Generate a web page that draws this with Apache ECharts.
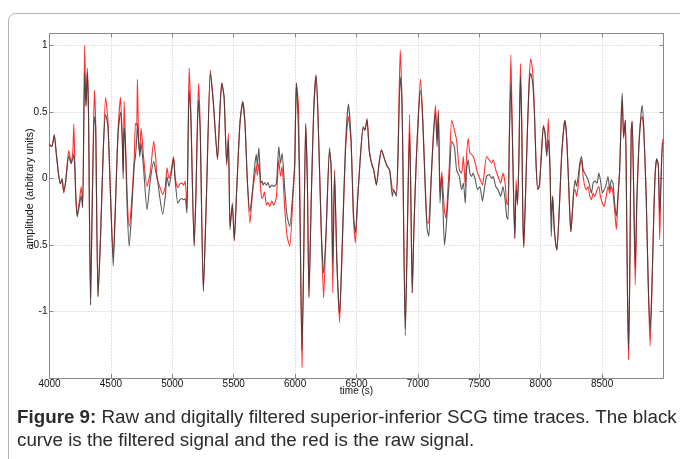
<!DOCTYPE html>
<html>
<head>
<meta charset="utf-8">
<script src="https://cdn.jsdelivr.net/npm/echarts@6/dist/echarts.min.js"></script>
<style>
html,body{margin:0;padding:0;background:#fff;}
#chart{width:680px;height:459px;}
</style>
</head>
<body>
<div id="chart"></div>
<script>
var time = [4000,4019,4039,4055,4074,4088,4102,4116,4132,4157,4176,4190,4198,4207,4215,4226,4242,4258,4270,4286,4297,4308,4318,4334,4349,4365,4376,4395,4416,4438,4457,4476,4497,4519,4538,4557,4578,4592,4600,4608,4618,4632,4649,4667,4690,4700,4710,4716,4725,4735,4746,4767,4794,4821,4849,4865,4876,4897,4922,4943,4957,4973,4989,5010,5024,5045,5062,5078,5092,5105,5119,5137,5151,5178,5192,5213,5227,5253,5278,5310,5335,5368,5389,5403,5422,5443,5457,5470,5489,5505,5524,5551,5573,5592,5611,5632,5654,5673,5685,5692,5705,5721,5730,5740,5750,5767,5780,5794,5810,5827,5848,5867,5881,5894,5916,5935,5956,5983,5997,6010,6027,6040,6056,6070,6086,6100,6113,6132,6151,6170,6186,6213,6232,6253,6280,6294,6307,6321,6340,6362,6383,6410,6434,6456,6475,6491,6510,6532,6554,6568,6586,6603,6622,6640,6662,6684,6703,6730,6751,6770,6792,6802,6824,6838,6856,6870,6878,6897,6910,6932,6943,6954,6967,6986,7005,7021,7040,7062,7076,7089,7108,7126,7143,7156,7167,7180,7194,7216,7229,7243,7256,7275,7297,7315,7337,7356,7370,7386,7396,7410,7423,7437,7450,7467,7486,7504,7526,7540,7559,7580,7602,7613,7634,7653,7674,7693,7710,7723,7734,7745,7757,7768,7779,7789,7800,7811,7822,7835,7846,7854,7862,7876,7892,7908,7919,7935,7949,7962,7976,7989,8005,8022,8035,8049,8062,8076,8086,8097,8111,8122,8132,8151,8170,8189,8197,8211,8224,8238,8246,8259,8270,8281,8292,8305,8319,8332,8346,8359,8373,8386,8400,8413,8427,8440,8459,8473,8486,8502,8516,8529,8548,8562,8575,8589,8602,8616,8629,8643,8656,8664,8675,8689,8697,8707,8716,8726,8737,8745,8756,8770,8783,8799,8815,8826,8840,8859,8875,8891,8907,8921,8934,8945,8958,8969,8980,8991,8998];

var filtered = [0.25,0.24,0.325,0.19,0.03,-0.04,0.0,-0.09,-0.02,0.17,0.11,0.15,0.18,0.05,-0.16,-0.29,-0.21,-0.13,-0.22,0.79,0.54,0.80,0.45,-0.95,-0.13,0.465,0.39,-0.885,-0.43,0.21,0.48,0.39,-0.135,-0.66,-0.185,0.315,0.50,0.30,0.0,0.38,0.25,-0.21,-0.51,-0.28,0.1,0.165,0.30,0.415,0.28,0.165,0.265,0.065,-0.235,-0.01,0.13,0.05,0.015,-0.135,-0.27,-0.135,0.015,-0.06,0.015,0.15,-0.02,-0.185,-0.16,-0.15,-0.16,-0.15,-0.26,0.665,0.465,-0.51,-0.135,0.59,0.365,-0.85,-0.13,0.79,0.565,0.14,0.54,0.715,0.615,0.115,0.29,-0.385,-0.185,-0.46,-0.085,0.415,0.58,0.415,-0.01,-0.25,-0.085,0.115,0.18,0.09,0.23,-0.035,-0.02,-0.05,-0.03,-0.05,-0.03,-0.07,-0.05,-0.06,-0.035,0.24,0.115,0.19,-0.085,-0.285,-0.36,-0.085,0.115,0.715,0.365,-0.3,-1.29,-0.6,0.415,-0.035,-0.885,-0.135,0.49,0.78,0.49,-0.385,-0.71,-0.385,0.23,0.065,-0.635,0.04,-0.635,-1.02,-0.51,0.24,0.56,0.29,-0.26,-0.41,-0.15,0.165,0.39,0.365,0.44,0.215,0.115,0.065,-0.05,0.115,0.215,0.14,0.09,0.065,-0.135,-0.085,-0.135,0.165,0.765,0.59,0.115,-1.18,-0.635,0.34,-0.135,-0.86,-0.385,0.115,0.49,0.66,0.415,-0.135,-0.385,-0.435,-0.01,0.315,0.49,0.24,0.49,-0.185,0.015,-0.5,-0.385,-0.185,-0.01,0.28,0.24,0.065,0.015,-0.085,-0.035,-0.185,0.065,0.14,0.04,0.015,0.04,-0.01,-0.085,-0.06,-0.17,-0.085,0.015,0.03,0.0,0.015,-0.06,-0.085,-0.135,-0.06,-0.16,-0.285,-0.31,0.3,0.715,0.365,-0.135,-0.45,-0.085,-0.185,0.115,0.765,0.365,-0.26,-0.51,-0.135,0.365,0.74,0.79,0.715,0.49,0.115,-0.085,-0.06,0.165,0.39,0.34,0.165,0.29,0.065,-0.435,-0.135,-0.385,-0.485,-0.535,-0.235,0.165,0.39,0.435,0.315,0.04,-0.285,-0.4,-0.235,-0.085,-0.01,-0.06,0.015,0.115,0.165,0.065,0.04,0.015,-0.01,-0.06,-0.11,-0.035,-0.02,-0.035,0.04,-0.01,-0.11,-0.085,-0.06,0.015,-0.085,-0.01,-0.035,-0.185,-0.285,-0.135,0.065,0.49,0.64,0.315,0.44,-0.01,-0.885,-1.285,-0.635,0.365,0.43,-0.01,-0.67,-0.135,0.24,0.465,0.55,0.365,-0.135,-0.76,-1.15,-0.76,-0.26,0.065,0.15,0.1,-0.26,-0.01,0.265,0.26];

var raw = [0.26,0.24,0.33,0.19,0.03,-0.04,-0.01,-0.11,-0.02,0.21,0.12,0.2,0.41,0.1,-0.14,-0.27,-0.18,-0.06,-0.21,1.0,0.55,0.83,0.48,-0.9,-0.15,0.665,0.4,-0.89,-0.43,0.22,0.61,0.43,-0.13,-0.59,-0.17,0.33,0.61,0.33,0.05,0.58,0.3,-0.12,-0.36,-0.2,0.15,0.415,0.4,0.745,0.3,0.2,0.38,0.15,-0.06,0.05,0.28,0.15,0.0,-0.06,-0.12,-0.06,0.08,0.0,0.05,0.165,0.0,-0.07,-0.04,-0.035,-0.05,-0.02,-0.23,0.83,0.5,-0.5,-0.13,0.715,0.4,-0.84,-0.14,0.815,0.56,0.15,0.54,0.72,0.6,0.1,0.34,-0.36,-0.2,-0.47,-0.1,0.42,0.57,0.41,-0.02,-0.335,-0.1,0.03,0.1,0.02,0.115,-0.1,-0.15,-0.135,-0.1,-0.2,-0.18,-0.21,-0.17,-0.2,-0.135,0.14,0.015,0.09,-0.235,-0.435,-0.51,-0.135,0.115,0.72,0.55,-0.2,-1.42,-0.6,0.4,-0.03,-0.9,-0.14,0.5,0.77,0.48,-0.4,-0.9,-0.4,0.2,0.1,-0.86,0.065,-0.6,-1.085,-0.55,0.2,0.465,0.27,-0.3,-0.485,-0.14,0.17,0.38,0.36,0.45,0.22,0.115,0.065,-0.05,0.115,0.215,0.14,0.09,0.06,-0.08,-0.09,-0.12,0.2,0.965,0.6,0.1,-1.12,-0.6,0.48,-0.2,-0.86,-0.4,0.12,0.5,0.75,0.45,-0.1,-0.335,-0.33,0.0,0.33,0.55,0.3,0.515,-0.1,0.05,-0.24,-0.3,-0.1,0.1,0.44,0.365,0.29,0.065,0.04,0.165,-0.06,0.165,0.3,0.19,0.18,0.165,0.115,0.04,0.0,-0.05,0.04,0.165,0.14,0.115,0.14,0.065,0.015,-0.035,0.04,-0.035,-0.185,-0.2,0.35,0.93,0.4,-0.1,-0.45,-0.01,-0.2,0.15,0.865,0.4,-0.25,-0.52,-0.14,0.37,0.78,0.9,0.8,0.5,0.12,-0.08,-0.05,0.17,0.4,0.35,0.2,0.45,0.07,-0.285,-0.13,-0.39,-0.49,-0.54,-0.24,0.17,0.39,0.435,0.31,0.04,-0.29,-0.4,-0.24,-0.09,-0.085,-0.135,-0.06,0.09,0.14,0.015,-0.06,-0.085,-0.06,-0.135,-0.16,-0.11,-0.135,-0.085,-0.06,-0.135,-0.185,-0.21,-0.16,-0.06,-0.11,-0.06,-0.11,-0.235,-0.385,-0.15,0.06,0.45,0.58,0.3,0.44,0.0,-0.9,-1.36,-0.65,0.35,0.43,-0.05,-0.8,-0.2,0.23,0.44,0.465,0.35,-0.14,-0.78,-1.26,-0.8,-0.27,0.06,0.14,0.1,-0.46,-0.01,0.265,0.3];

var xTicks = ['4000','4500','5000','5500','6000','6500','7000','7500','8000','8500'];
var yTicks = ['-1','-0.5','0','0.5','1'];

var FONT = '"Liberation Sans", Arial, Helvetica, sans-serif';
var chart = echarts.init(document.getElementById('chart'), null, {renderer: 'canvas'});

var axisColor = '#8a8a8a';
var gridLine = {show: true, lineStyle: {color: '#c4c4c4', type: [1, 2], width: 1}};

var option = {
  animation: false,
  backgroundColor: '#ffffff',
  grid: {left: 49.5, top: 33.5, right: 16.5, bottom: 81, containLabel: false},
  xAxis: [{
    type: 'value', min: 4000, max: 9000, interval: 500, position: 'bottom',
    name: 'time (s)', nameLocation: 'middle', nameGap: 8, nameMoveOverlap: false,
    nameTextStyle: {fontFamily: FONT, fontSize: 10, color: '#111', verticalAlign: 'top'},
    axisLine: {show: true, onZero: false, lineStyle: {color: axisColor, width: 1}},
    axisTick: {show: true, inside: true, length: 4, lineStyle: {color: axisColor}},
    axisLabel: {
      show: true, margin: 1, fontFamily: FONT, fontSize: 10, color: '#111',
      showMaxLabel: false, hideOverlap: false,
      formatter: function (v) { var s = String(v); return xTicks.indexOf(s) >= 0 ? s : ''; }
    },
    splitLine: gridLine
  }, {
    type: 'value', min: 4000, max: 9000, interval: 500, position: 'top',
    axisLine: {show: true, onZero: false, lineStyle: {color: axisColor, width: 1}},
    axisTick: {show: true, inside: true, length: 4, lineStyle: {color: axisColor}},
    axisLabel: {show: false}, splitLine: {show: false}
  }],
  yAxis: [{
    type: 'value', min: -1.5, max: 1.09, interval: 0.5, position: 'left',
    axisLine: {show: true, onZero: false, lineStyle: {color: axisColor, width: 1}},
    axisTick: {show: true, inside: true, length: 4, lineStyle: {color: axisColor}},
    axisLabel: {
      show: true, margin: 2, fontFamily: FONT, fontSize: 10, color: '#111',
      showMinLabel: false, showMaxLabel: false,
      formatter: function (v) { var s = String(Math.round(v * 100) / 100); return yTicks.indexOf(s) >= 0 ? s : ''; }
    },
    splitLine: gridLine
  }, {
    type: 'value', min: -1.5, max: 1.09, interval: 0.5, position: 'right',
    axisLine: {show: true, onZero: false, lineStyle: {color: axisColor, width: 1}},
    axisTick: {show: true, inside: true, length: 4, lineStyle: {color: axisColor}},
    axisLabel: {show: false}, splitLine: {show: false}
  }],
  series: [{
    name: 'raw', type: 'line', xAxisIndex: 0, yAxisIndex: 0,
    data: time.map(function (t, i) { return [t, raw[i]]; }),
    showSymbol: false, symbol: 'none', smooth: 0.2,
    lineStyle: {color: '#ff1a1a', width: 1.1, opacity: 0.9},
    z: 2
  }, {
    name: 'filtered', type: 'line', xAxisIndex: 0, yAxisIndex: 0,
    data: time.map(function (t, i) { return [t, filtered[i]]; }),
    showSymbol: false, symbol: 'none', smooth: 0.2,
    lineStyle: {color: '#3a3a3a', width: 1.1, opacity: 0.85},
    z: 3
  }],
  graphic: [
    {type: 'rect', shape: {x: 8.5, y: 13.5, width: 720, height: 520, r: 7},
     style: {fill: 'none', stroke: '#b4b4b4', lineWidth: 1}, silent: true, z: -10},
    {type: 'text', x: 30, y: 189, rotation: Math.PI / 2,
     style: {text: 'amplitude (arbitrary units)', fontFamily: FONT, fontSize: 10.7, fill: '#111',
             align: 'center', verticalAlign: 'middle'}, silent: true},
    {type: 'text', x: 17, y: 418,
     style: {text: '{b|Figure 9:} Raw and digitally filtered superior-inferior SCG time traces. The black',
             fontFamily: FONT, fontSize: 18.8, fill: '#2b2b2b', verticalAlign: 'middle',
             rich: {b: {fontFamily: FONT, fontSize: 18.8, fontWeight: 'bold', fill: '#2b2b2b'}}}, silent: true},
    {type: 'text', x: 17, y: 441,
     style: {text: 'curve is the filtered signal and the red is the raw signal.',
             fontFamily: FONT, fontSize: 18.8, fill: '#2b2b2b', verticalAlign: 'middle'}, silent: true}
  ]
};
chart.setOption(option);
</script>
</body>
</html>
